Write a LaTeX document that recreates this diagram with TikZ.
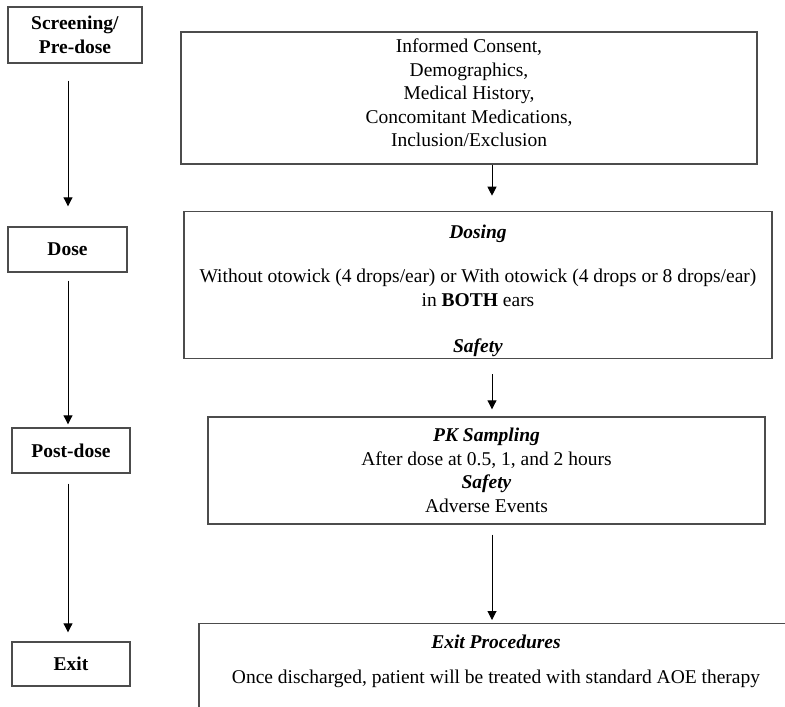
\documentclass[tikz,border=0pt]{standalone}
\usepackage{fontspec}
\setmainfont{Liberation Serif}
\usepackage{tikz}
\usetikzlibrary{arrows.meta,positioning}

\begin{document}
\begin{tikzpicture}[
  x=1pt, y=-1pt,
  every node/.style={font=\fontsize{19.5}{23.5}\selectfont},
  phase/.style={draw=black!70, line width=1.4pt, align=center, inner sep=2pt},
  info/.style={draw=black!70, line width=1.4pt, align=center, inner sep=2pt},
  arr/.style={-{Triangle[length=9pt,width=9pt]}, line width=1pt, color=black}
]
  \useasboundingbox (0,0) rectangle (785,707);

  % left column: study phases
  \node[phase, minimum width=134pt, minimum height=56pt] (scr) at (75,35) {\textbf{Screening/}\\\textbf{Pre-dose}};
  \node[phase, minimum width=119pt, minimum height=45pt] (dose) at (67.5,249.5) {\textbf{Dose}};
  \node[phase, minimum width=118pt, minimum height=45pt] (post) at (71,450.5) {\textbf{Post-dose}};
  \node[phase, minimum width=118pt, minimum height=44pt] (exit) at (71,664) {\textbf{Exit}};

  % right column: procedures
  \node[info, minimum width=576pt, minimum height=132pt] (consent) at (469,98)
    {Informed Consent,\\Demographics,\\Medical History,\\Concomitant Medications,\\Inclusion/Exclusion\rule[-10pt]{0pt}{10pt}};
  \node[info, minimum width=588pt, minimum height=146pt] (dosing) at (478,285)
    {\rule{0pt}{25.5pt}\textbf{\textit{Dosing}}\\[20.5pt]
     Without otowick (4 drops/ear) or With otowick (4 drops or 8 drops/ear)\\
     in \textbf{BOTH} ears\\[22.5pt]
     \textbf{\textit{Safety}}};
  \node[info, minimum width=557pt, minimum height=107pt] (pk) at (486.5,470.5)
    {\textbf{\textit{PK Sampling}}\\After dose at 0.5, 1, and 2 hours\\\textbf{\textit{Safety}}\\Adverse Events};
  \node[info, anchor=north, minimum width=594pt, minimum height=120pt] (exitbox) at (496,623) {};
  \node[align=center, below=8pt of exitbox.north] (exittxt)
    {\textbf{\textit{Exit Procedures}}\\[11.5pt]Once discharged, patient will be treated with standard AOE therapy};

  \coordinate (lx) at (68,0);
  \coordinate (rx) at (492,0);

  \draw[arr, shorten <=17pt, shorten >=20pt] (scr.south -| lx) -- (dose.north -| lx);
  \draw[arr, shorten <=8pt, shorten >=3pt] (dose.south -| lx) -- (post.north -| lx);
  \draw[arr, shorten <=10pt, shorten >=9pt] (post.south -| lx) -- (exit.north -| lx);

  \draw[arr, shorten >=15pt] (consent.south -| rx) -- (dosing.north -| rx);
  \draw[arr, shorten <=15pt, shorten >=7pt] (dosing.south -| rx) -- (pk.north -| rx);
  \draw[arr, shorten <=10pt, shorten >=3pt] (pk.south -| rx) -- (exitbox.north -| rx);
\end{tikzpicture}
\end{document}
